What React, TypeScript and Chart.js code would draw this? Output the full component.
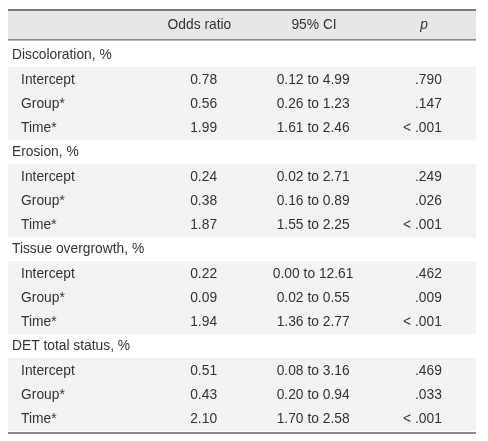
import React, { useEffect, useRef } from "react";
import { Chart, registerables } from "chart.js";

Chart.register(...registerables);

// ---- data ----
const headers = ["", "Odds ratio", "95% CI", "p"];
const sections = ["Discoloration, %", "Erosion, %", "Tissue overgrowth, %", "DET total status, %"];
const terms = ["Intercept", "Group*", "Time*"];
const oddsRatio = [0.78, 0.56, 1.99, 0.24, 0.38, 1.87, 0.22, 0.09, 1.94, 0.51, 0.43, 2.1];
const ciLower = [0.12, 0.26, 1.61, 0.02, 0.16, 1.55, 0.0, 0.02, 1.36, 0.08, 0.2, 1.7];
const ciUpper = [4.99, 1.23, 2.46, 2.71, 0.89, 2.25, 12.61, 0.55, 2.77, 3.16, 0.94, 2.58];
const pValues = [".790", ".147", "< .001", ".249", ".026", "< .001", ".462", ".009", "< .001", ".469", ".033", "< .001"];

type Row = { label: string; term: boolean; idx: number };
const rows: Row[] = [];
sections.forEach((s, si) => {
  rows.push({ label: s, term: false, idx: -1 });
  terms.forEach((t, ti) => rows.push({ label: t, term: true, idx: si * terms.length + ti }));
});

const FONT = '15px "Liberation Sans", Arial, sans-serif';
const FONT_IT = 'italic 15px "Liberation Sans", Arial, sans-serif';
const SX = 0.92;
const TEXT = "#333333";

function drawText(ctx: CanvasRenderingContext2D, text: string, x: number, y: number, align: CanvasTextAlign, font = FONT) {
  ctx.save();
  ctx.font = font;
  ctx.fillStyle = TEXT;
  ctx.textBaseline = "middle";
  ctx.textAlign = align;
  ctx.translate(x, y);
  ctx.scale(SX, 1);
  ctx.fillText(text, 0, 0);
  ctx.restore();
}

const tablePlugin = {
  id: "tablePlugin",
  beforeDatasetsDraw(chart: any) {
    const { ctx, chartArea } = chart;
    const { left, right, bottom } = chartArea;
    ctx.save();
    // header background
    ctx.fillStyle = "#e7e7e7";
    ctx.fillRect(left, 3, right - left, 28.5);
    // top rule
    ctx.fillStyle = "#7c7c7c";
    ctx.fillRect(left, 1, right - left, 2);
    // header bottom rule
    ctx.fillStyle = "#8a8a8a";
    ctx.fillRect(left, 31, right - left, 1.6);
    // bottom rule
    ctx.fillRect(left, bottom + 1, right - left, 2);
    ctx.restore();
  },
  afterDatasetsDraw(chart: any) {
    const { ctx } = chart;
    const xs = chart.scales.x;
    const ys = chart.scales.y;
    const hy = 17;
    drawText(ctx, headers[1], xs.getPixelForValue(40.9), hy, "center");
    drawText(ctx, headers[2], xs.getPixelForValue(65.4), hy, "center");
    drawText(ctx, headers[3], xs.getPixelForValue(88.9), hy, "center", FONT_IT);
    rows.forEach((r, i) => {
      const y = ys.getPixelForValue(i);
      if (!r.term) {
        drawText(ctx, r.label, xs.getPixelForValue(0.85), y, "left");
        return;
      }
      drawText(ctx, r.label, xs.getPixelForValue(2.8), y, "left");
      drawText(ctx, oddsRatio[r.idx].toFixed(2), xs.getPixelForValue(41.8), y, "center");
      drawText(
        ctx,
        `${ciLower[r.idx].toFixed(2)} to ${ciUpper[r.idx].toFixed(2)}`,
        xs.getPixelForValue(65.2),
        y,
        "center"
      );
      drawText(ctx, pValues[r.idx], xs.getPixelForValue(92.7), y, "right");
    });
  },
};

export default function App() {
  const ref = useRef<HTMLCanvasElement>(null);
  useEffect(() => {
    if (!ref.current) return;
    const chart = new Chart(ref.current, {
      type: "bar",
      data: {
        labels: rows.map((r) => r.label),
        datasets: [
          {
            data: rows.map((r) => (r.term ? [0, 100] : null)) as any,
            backgroundColor: "#f3f3f3",
            borderWidth: 0,
            barPercentage: 1,
            categoryPercentage: 1,
          },
        ],
      },
      options: {
        indexAxis: "y",
        responsive: false,
        animation: false,
        events: [],
        layout: { padding: { top: 35, left: 0, right: 4, bottom: 5 } },
        plugins: { legend: { display: false }, tooltip: { enabled: false } },
        scales: {
          x: { type: "linear", min: 0, max: 100, display: false },
          y: { type: "category", display: false, offset: true },
        },
      },
      plugins: [tablePlugin],
    });
    return () => chart.destroy();
  }, []);
  return <canvas ref={ref} width={472} height={428} style={{ display: "block" }} />;
}
